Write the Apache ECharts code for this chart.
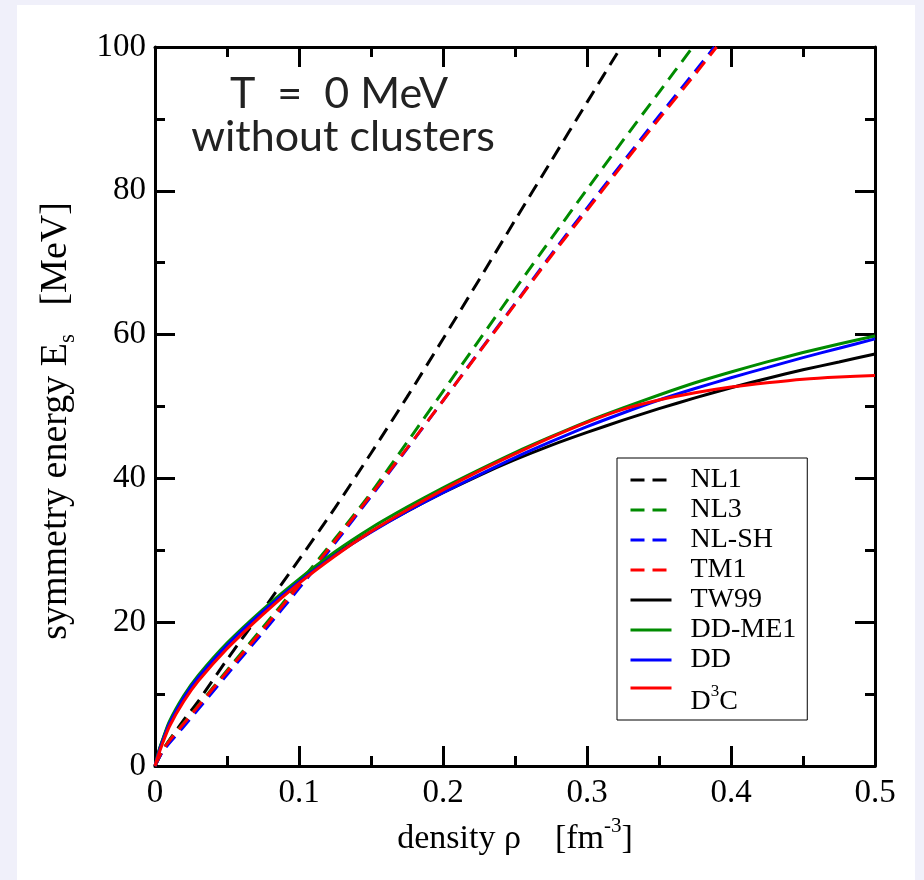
<!DOCTYPE html>
<html>
<head>
<meta charset="utf-8">
<script src="https://cdn.jsdelivr.net/npm/echarts@6/dist/echarts.min.js"></script>
<style>
html,body{margin:0;padding:0;background:#f0f0fa;}
#c{width:924px;height:880px;}
</style>
</head>
<body>
<div id="c"></div>
<script>
// ---- data (density rho in fm^-3, symmetry energy in MeV) ----
const rhoSolid = [0, 0.0025, 0.005, 0.01, 0.02, 0.03, 0.05, 0.075, 0.1, 0.125, 0.15, 0.175, 0.2, 0.225, 0.25, 0.275, 0.3, 0.325, 0.35, 0.375, 0.4, 0.425, 0.45, 0.475, 0.5];
const esTW99  = [0, 1.9, 3.4, 6.0, 9.6, 12.4, 16.9, 21.6, 25.7, 29.4, 32.6, 35.4, 38.0, 40.4, 42.6, 44.6, 46.4, 48.1, 49.7, 51.2, 52.6, 53.9, 55.1, 56.2, 57.3];
const esDDME1 = [0, 2.0, 3.5, 6.2, 9.8, 12.6, 17.1, 21.8, 26.0, 29.8, 33.1, 36.0, 38.7, 41.2, 43.6, 45.8, 47.9, 49.8, 51.6, 53.3, 54.8, 56.2, 57.5, 58.7, 59.8];
const esDD    = [0, 1.8, 3.3, 5.9, 9.5, 12.3, 16.8, 21.5, 25.6, 29.3, 32.5, 35.4, 38.0, 40.5, 42.9, 45.1, 47.2, 49.1, 50.9, 52.5, 54.0, 55.4, 56.8, 58.1, 59.4];
const esD3C   = [0, 1.6, 3.0, 5.5, 9.0, 11.8, 16.3, 21.1, 25.4, 29.2, 32.6, 35.6, 38.4, 41.0, 43.4, 45.7, 47.8, 49.6, 50.9, 51.9, 52.7, 53.3, 53.8, 54.1, 54.3];

const rhoNL1 = [0, 0.005, 0.01, 0.02, 0.03, 0.05, 0.075, 0.1, 0.125, 0.15, 0.175, 0.2, 0.225, 0.25, 0.275, 0.3, 0.3236];
const esNL1  = [0, 2.0, 3.6, 6.4, 9.0, 14.8, 21.7, 28.7, 35.9, 43.5, 51.3, 59.4, 67.6, 75.9, 84.1, 92.3, 100];
const rhoNL3 = [0, 0.005, 0.01, 0.02, 0.03, 0.05, 0.075, 0.1, 0.125, 0.15, 0.175, 0.2, 0.225, 0.25, 0.275, 0.3, 0.325, 0.35, 0.3735];
const esNL3  = [0, 2.1, 3.6, 6.0, 8.4, 13.3, 19.3, 25.4, 31.6, 38.0, 45.0, 52.1, 59.2, 66.3, 73.3, 80.2, 87.0, 93.7, 100];
const rhoNLSH = [0, 0.005, 0.01, 0.02, 0.03, 0.05, 0.075, 0.1, 0.125, 0.15, 0.175, 0.2, 0.225, 0.25, 0.275, 0.3, 0.325, 0.35, 0.375, 0.3885];
const esNLSH  = [0, 1.9, 3.2, 5.5, 7.9, 12.7, 18.6, 24.7, 31.0, 37.5, 44.1, 50.8, 57.6, 64.3, 71.1, 77.6, 84.0, 90.4, 96.6, 100];
const rhoTM1 = [0, 0.005, 0.01, 0.02, 0.03, 0.05, 0.075, 0.1, 0.125, 0.15, 0.175, 0.2, 0.225, 0.25, 0.275, 0.3, 0.325, 0.35, 0.375, 0.39];
const esTM1  = [0, 2.1, 3.5, 5.9, 8.3, 13.1, 19.0, 25.1, 31.3, 37.7, 44.2, 50.8, 57.5, 64.2, 70.9, 77.3, 83.7, 90.0, 96.2, 100];

const seriesNames = ['NL1', 'NL3', 'NL-SH', 'TM1', 'TW99', 'DD-ME1', 'DD', 'D3C'];
const xTickStep = 0.1, yTickStep = 20;

// ---- styling ----
const serif = 'Liberation Serif';
const cBlack = '#000000', cGreen = '#008b00', cBlue = '#0000ff', cRed = '#ff0000';
const dash = [14, 8];

function pairs(xs, ys) { return xs.map((x, i) => [x, ys[i]]); }
function mk(name, xs, ys, color, dashed) {
  return {
    name: name, type: 'line', data: pairs(xs, ys),
    symbol: 'none', showSymbol: false, smooth: 0.25,
    clip: true, silent: true,
    lineStyle: { color: color, width: 3, type: dashed ? dash : 'solid' },
    itemStyle: { color: color }
  };
}

function axisCommon(showLabel) {
  return {
    axisLine: { show: true, onZero: false, lineStyle: { color: '#000', width: 3 } },
    axisTick: { show: true, inside: true, length: 20, lineStyle: { color: '#000', width: 3 } },
    minorTick: { show: true, splitNumber: 2, length: 10, lineStyle: { color: '#000', width: 3 } },
    splitLine: { show: false },
    minorSplitLine: { show: false },
    axisLabel: { show: showLabel, color: '#000', fontFamily: serif, fontSize: 33 }
  };
}

const chart = echarts.init(document.getElementById('c'), null, { renderer: 'canvas' });
const xb = Object.assign({ type: 'value', position: 'bottom', min: 0, max: 0.5, interval: xTickStep }, axisCommon(true));
xb.axisLabel.margin = 11;
xb.name = '{a|density ρ    [fm}{s|-3}{a|]}';
xb.nameLocation = 'middle';
xb.nameGap = 50;
xb.nameTextStyle = { rich: {
  a: { fontFamily: serif, fontSize: 34, color: '#000', lineHeight: 40, verticalAlign: 'bottom' },
  s: { fontFamily: serif, fontSize: 21, color: '#000', lineHeight: 40, verticalAlign: 'top' }
} };
const xt = Object.assign({ type: 'value', position: 'top', min: 0, max: 0.5, interval: xTickStep }, axisCommon(false));
const yl = Object.assign({ type: 'value', position: 'left', min: 0, max: 100, interval: yTickStep }, axisCommon(true));
yl.axisLabel.margin = 9;
const yr = Object.assign({ type: 'value', position: 'right', min: 0, max: 100, interval: yTickStep }, axisCommon(false));

const option = {
  animation: false,
  backgroundColor: '#f0f0fa',
  grid: { left: 155, right: 49, top: 47, bottom: 114, containLabel: false },
  xAxis: [xb, xt],
  yAxis: [yl, yr],
  legend: {
    show: true, orient: 'vertical', left: 617, top: 458,
    itemWidth: 41, itemHeight: 30, itemGap: 2,
    padding: [8, 11, 4, 12],
    backgroundColor: '#fff', borderColor: '#000', borderWidth: 1, borderRadius: 0,
    selectedMode: false,
    itemStyle: { opacity: 0 },
    lineStyle: { width: 3 },
    data: seriesNames,
    formatter: function (name) {
      if (name === 'D3C') return '{d|D}{s|3}{c|C}';
      return '{n|' + name + '}';
    },
    textStyle: {
      fontFamily: serif, fontSize: 28, color: '#000',
      rich: {
        n: { fontFamily: serif, fontSize: 28, color: '#000', lineHeight: 30, padding: [0, 0, 0, 14] },
        d: { fontFamily: serif, fontSize: 28, color: '#000', lineHeight: 56, padding: [0, 0, 0, 14], verticalAlign: 'bottom' },
        s: { fontFamily: serif, fontSize: 17, color: '#000', lineHeight: 56, verticalAlign: 'bottom', padding: [0, 0, 16, 0] },
        c: { fontFamily: serif, fontSize: 28, color: '#000', lineHeight: 56, verticalAlign: 'bottom' }
      }
    }
  },
  graphic: [
    { type: 'rect', silent: true, z: -100, shape: { x: 17, y: 5, width: 898, height: 875 }, style: { fill: '#ffffff' } },
    { type: 'text', silent: true, x: 339, y: 94, style: { text: 'T  =  0 MeV', fontFamily: 'Lato', fontSize: 43, fill: '#222', align: 'center', verticalAlign: 'middle' } },
    { type: 'text', silent: true, x: 343, y: 137, style: { text: 'without clusters', fontFamily: 'Lato', fontSize: 43, fill: '#222', align: 'center', verticalAlign: 'middle' } },
    { type: 'text', silent: true, x: 58, y: 421, rotation: Math.PI / 2,
      style: { text: '{a|symmetry energy E}{s|s}{a|   [MeV]}', align: 'center', verticalAlign: 'middle',
        rich: {
          a: { fontFamily: serif, fontSize: 38, fill: '#000', lineHeight: 42, verticalAlign: 'top' },
          s: { fontFamily: serif, fontSize: 23, fill: '#000', lineHeight: 42, verticalAlign: 'bottom' }
        } } }
  ],
  series: [
    mk('NL1', rhoNL1, esNL1, cBlack, true),
    mk('NL3', rhoNL3, esNL3, cGreen, true),
    mk('NL-SH', rhoNLSH, esNLSH, cBlue, true),
    mk('TM1', rhoTM1, esTM1, cRed, true),
    mk('TW99', rhoSolid, esTW99, cBlack, false),
    mk('DD-ME1', rhoSolid, esDDME1, cGreen, false),
    mk('DD', rhoSolid, esDD, cBlue, false),
    mk('D3C', rhoSolid, esD3C, cRed, false)
  ]
};
chart.setOption(option);
</script>
</body>
</html>
